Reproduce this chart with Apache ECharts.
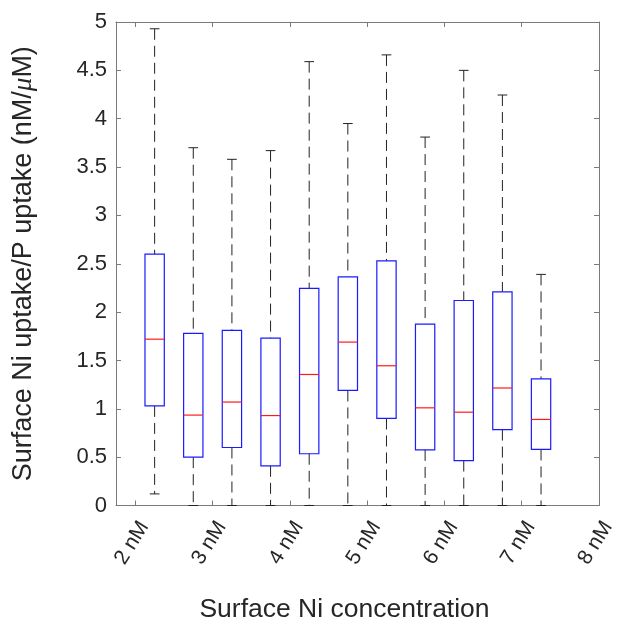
<!DOCTYPE html>
<html>
<head>
<meta charset="utf-8">
<script src="https://cdn.jsdelivr.net/npm/echarts@6/dist/echarts.min.js"></script>
<style>html,body{margin:0;padding:0;background:#fff}#c{width:617px;height:629px}</style>
</head>
<body>
<div id="c"></div>
<script>
// x positions of the boxes (axis units, ticks labelled in nM)
const positions = [2.25, 2.75, 3.25, 3.75, 4.25, 4.75, 5.25, 5.75, 6.25, 6.75, 7.25];
const whiskerLow  = [0.12, 0, 0, 0, 0, 0, 0, 0, 0, 0, 0];
const q1          = [1.03, 0.50, 0.60, 0.41, 0.535, 1.19, 0.90, 0.575, 0.465, 0.785, 0.58];
const median      = [1.72, 0.935, 1.07, 0.93, 1.355, 1.69, 1.445, 1.01, 0.965, 1.215, 0.89];
const q3          = [2.60, 1.78, 1.81, 1.73, 2.245, 2.365, 2.53, 1.875, 2.12, 2.21, 1.31];
const whiskerHigh = [4.93, 3.70, 3.58, 3.67, 4.59, 3.95, 4.66, 3.81, 4.50, 4.245, 2.39];
const xTickValues = [2, 3, 4, 5, 6, 7, 8];
const yTickValues = [0, 0.5, 1, 1.5, 2, 2.5, 3, 3.5, 4, 4.5, 5];

const FONT = 'Liberation Sans';
const TXT = '#262626';
const FRAME = '#7a7a7a';

const data = positions.map((p, i) => [p, whiskerLow[i], q1[i], median[i], q3[i], whiskerHigh[i]]);

const boxW = 0.25, capW = 0.125;

function renderItem(params, api) {
  const x = api.value(0);
  const lo = api.coord([x, api.value(1)]);
  const b1 = api.coord([x, api.value(2)]);
  const md = api.coord([x, api.value(3)]);
  const b3 = api.coord([x, api.value(4)]);
  const hi = api.coord([x, api.value(5)]);
  const hw = api.size([boxW, 0])[0] / 2;
  const cw = api.size([capW, 0])[0] / 2;
  const cx = lo[0];
  const dash = { stroke: '#222', lineWidth: 1, lineDash: [11, 6] };
  const solid = { stroke: '#222', lineWidth: 1 };
  return {
    type: 'group',
    children: [
      { type: 'line', shape: { x1: cx, y1: hi[1], x2: cx, y2: b3[1] }, style: dash },
      { type: 'line', shape: { x1: cx, y1: b1[1], x2: cx, y2: lo[1] }, style: dash },
      { type: 'line', shape: { x1: cx - cw, y1: hi[1], x2: cx + cw, y2: hi[1] }, style: solid },
      { type: 'line', shape: { x1: cx - cw, y1: lo[1], x2: cx + cw, y2: lo[1] }, style: solid },
      { type: 'rect', shape: { x: cx - hw, y: b3[1], width: 2 * hw, height: b1[1] - b3[1] },
        style: { fill: null, stroke: '#1a1aff', lineWidth: 1.2 } },
      { type: 'line', shape: { x1: cx - hw, y1: md[1], x2: cx + hw, y2: md[1] },
        style: { stroke: '#ff1a1a', lineWidth: 1.2 } }
    ]
  };
}

const chart = echarts.init(document.getElementById('c'), null, { renderer: 'canvas' });
chart.setOption({
  animation: false,
  backgroundColor: '#fff',
  grid: { left: 116, right: 18, top: 22, bottom: 123.5, containLabel: false, outerBoundsMode: 'none' },
  xAxis: [{
    type: 'value', min: 1.75, max: 8, position: 'bottom',
    name: 'Surface Ni concentration', nameLocation: 'middle', nameGap: 91,
    nameTextStyle: { fontFamily: FONT, fontSize: 26.5, color: TXT, padding: [0, 26, 0, 0] },
    axisLine: { show: true, onZero: false, lineStyle: { color: FRAME, width: 1 } },
    axisTick: { show: true, inside: true, length: 5, customValues: xTickValues, lineStyle: { color: FRAME } },
    axisLabel: {
      customValues: xTickValues, formatter: v => v + ' nM', rotate: 58,
      verticalAlign: 'top', margin: 12,
      fontFamily: FONT, fontSize: 21, color: TXT
    },
    splitLine: { show: false }
  }, {
    type: 'value', min: 1.75, max: 8, position: 'top',
    axisLine: { show: true, onZero: false, lineStyle: { color: FRAME, width: 1 } },
    axisTick: { show: true, inside: true, length: 5, customValues: xTickValues, lineStyle: { color: FRAME } },
    axisLabel: { show: false },
    splitLine: { show: false }
  }],
  yAxis: [{
    type: 'value', min: 0, max: 5, position: 'left',
    name: '{a|Surface Ni uptake/P uptake (nM/}{b|μ}{a|M)}',
    nameLocation: 'middle', nameGap: 79,
    nameTextStyle: {
      rich: {
        a: { fontFamily: FONT, fontSize: 27, color: TXT },
        b: { fontFamily: 'Liberation Serif', fontStyle: 'italic', fontSize: 27, color: TXT }
      }
    },
    axisLine: { show: true, onZero: false, lineStyle: { color: FRAME, width: 1 } },
    axisTick: { show: true, inside: true, length: 5, customValues: yTickValues, lineStyle: { color: FRAME } },
    axisLabel: { customValues: yTickValues, margin: 9, fontFamily: FONT, fontSize: 22, color: TXT },
    splitLine: { show: false }
  }, {
    type: 'value', min: 0, max: 5, position: 'right',
    axisLine: { show: true, onZero: false, lineStyle: { color: FRAME, width: 1 } },
    axisTick: { show: true, inside: true, length: 5, customValues: yTickValues, lineStyle: { color: FRAME } },
    axisLabel: { show: false },
    splitLine: { show: false }
  }],
  series: [{
    type: 'custom',
    xAxisIndex: 0, yAxisIndex: 0,
    renderItem: renderItem,
    encode: { x: 0, y: [1, 2, 3, 4, 5] },
    data: data,
    clip: false
  }]
});
</script>
</body>
</html>
